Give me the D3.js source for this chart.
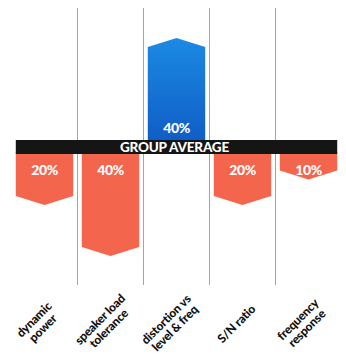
<!DOCTYPE html>
<html>
<head>
<meta charset="utf-8">
<script src="https://cdn.jsdelivr.net/npm/d3@7"></script>
<style>
  html, body { margin: 0; padding: 0; background: #fff; }
  svg { display: block; }
</style>
</head>
<body>
<svg id="chart" width="346" height="358"></svg>
<script>
// Share of amplifiers that beat (+) or fell short of (-) the group average
const categories = ["dynamic power", "speaker load tolerance", "distortion vs level & freq", "S/N ratio", "frequency response"];
const labelLines = [["dynamic", "power"], ["speaker load", "tolerance"], ["distortion vs", "level & freq"], ["S/N ratio"], ["frequency", "response"]];
const values = [-20, -40, 40, -20, -10];
const valueLabels = ["20%", "40%", "40%", "20%", "10%"];
const bandLabel = "GROUP AVERAGE";

const svg = d3.select("#chart");

const x = d3.scaleBand()
  .domain(categories)
  .range([11.5, 341.5])
  .paddingInner(0.13)
  .paddingOuter(0.065);

// bar length measured away from the average band
const len = d3.scaleLinear().domain([0, 40]).range([0, 102]);

const bandTop = 140, bandBottom = 154;
const tip = 9;

// gradient for the above-average bar
const defs = svg.append("defs");
const grad = defs.append("linearGradient")
  .attr("id", "blueGrad").attr("x1", 0).attr("y1", 0).attr("x2", 0).attr("y2", 1);
grad.append("stop").attr("offset", "0%").attr("stop-color", "#1c8ae3");
grad.append("stop").attr("offset", "100%").attr("stop-color", "#0f5dc6");

// column dividers
const dividers = d3.range(1, categories.length).map(i => x.range()[0] + x.step() * i);
svg.append("g").selectAll("line")
  .data(dividers)
  .join("line")
  .attr("x1", d => d).attr("x2", d => d)
  .attr("y1", 8).attr("y2", 285)
  .attr("stroke", "#a4a4a4")
  .attr("stroke-width", 1);

// arrow-shaped bars
function barPath(cat, v) {
  const x0 = x(cat), x1 = x0 + x.bandwidth(), xm = x0 + x.bandwidth() / 2;
  const L = len(Math.abs(v));
  if (v > 0) {
    const yTip = bandTop - L;
    return `M${x0},${bandTop + 2}L${x0},${yTip + tip}L${xm},${yTip}L${x1},${yTip + tip}L${x1},${bandTop + 2}Z`;
  } else {
    const yTip = bandBottom + L;
    return `M${x0},${bandBottom - 2}L${x0},${yTip - tip}L${xm},${yTip}L${x1},${yTip - tip}L${x1},${bandBottom - 2}Z`;
  }
}

svg.append("g").selectAll("path")
  .data(categories)
  .join("path")
  .attr("d", (c, i) => barPath(c, values[i]))
  .attr("fill", (c, i) => values[i] > 0 ? "url(#blueGrad)" : "#f4654d");

// average band
const bandX0 = x(categories[0]);
const bandX1 = x(categories[categories.length - 1]) + x.bandwidth();
svg.append("rect")
  .attr("x", bandX0).attr("y", bandTop)
  .attr("width", bandX1 - bandX0).attr("height", bandBottom - bandTop)
  .attr("fill", "#151515");
svg.append("text")
  .attr("x", (bandX0 + bandX1) / 2 - 2)
  .attr("y", bandBottom - 2.3)
  .attr("text-anchor", "middle")
  .attr("fill", "#fff")
  .attr("font-family", "Lato, 'Open Sans', sans-serif")
  .attr("font-weight", 900)
  .attr("font-size", 13.5)
  .attr("letter-spacing", -0.2)
  .text(bandLabel);

// value labels inside bars
svg.append("g").selectAll("text")
  .data(categories)
  .join("text")
  .attr("x", c => x(c) + x.bandwidth() / 2)
  .attr("y", (c, i) => values[i] > 0 ? bandTop - 7.5 : bandBottom + 20.5)
  .attr("text-anchor", "middle")
  .attr("fill", "#fff")
  .attr("font-family", "Lato, 'Open Sans', sans-serif")
  .attr("font-weight", 900)
  .attr("font-size", 14)
  .attr("letter-spacing", -0.4)
  .text((c, i) => valueLabels[i]);

// rotated category labels
const lab = svg.append("g").selectAll("text")
  .data(categories)
  .join("text")
  .attr("transform", c => `translate(${x(c) + x.bandwidth() / 2 - 6},324) rotate(-45)`)
  .attr("text-anchor", "middle")
  .attr("fill", "#111")
  .attr("font-family", "Lato, 'Open Sans', sans-serif")
  .attr("font-weight", 900)
  .attr("font-size", 12)
  .attr("letter-spacing", -0.2);

lab.each(function(c, i) {
  const lines = labelLines[i];
  const lh = 12.5;
  const start = -((lines.length - 1) * lh) / 2 + 4;
  d3.select(this).selectAll("tspan")
    .data(lines)
    .join("tspan")
    .attr("x", 0)
    .attr("y", (d, j) => start + j * lh)
    .text(d => d);
});
</script>
</body>
</html>
